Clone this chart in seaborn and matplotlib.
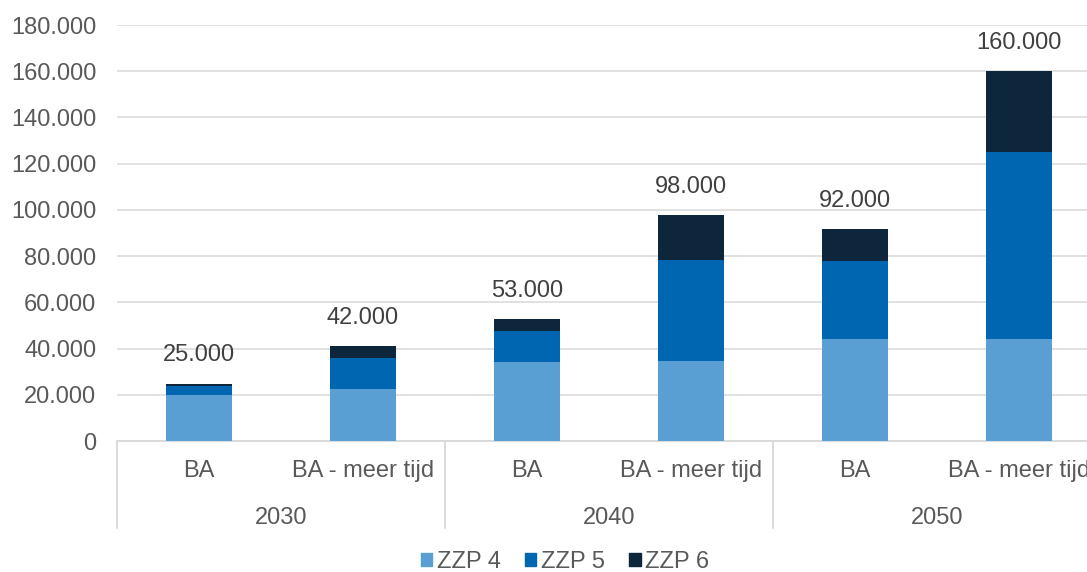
import pandas as pd
import matplotlib.pyplot as plt
import matplotlib.transforms as mtransforms
from matplotlib.patches import Patch
import seaborn as sns

# data
years = ["2030", "2030", "2040", "2040", "2050", "2050"]
scenarios = ["BA", "BA - meer tijd", "BA", "BA - meer tijd", "BA", "BA - meer tijd"]
zzp4 = [20000, 22600, 34100, 34700, 44300, 44300]
zzp5 = [3600, 13100, 13300, 43800, 33800, 80900]
zzp6 = [1200, 5500, 5500, 19400, 13700, 35000]
totals = [25000, 42000, 53000, 98000, 92000, 160000]
series = ["ZZP 4", "ZZP 5", "ZZP 6"]
colors = ["#5A9FD4", "#0066B1", "#0E263B"]

df = pd.DataFrame({"year": years, "scenario": scenarios,
                   "zzp4": zzp4, "zzp5": zzp5, "zzp6": zzp6})
df["key"] = df["year"] + " " + df["scenario"]
df["top4"] = df["zzp4"]
df["top5"] = df["zzp4"] + df["zzp5"]
df["top6"] = df["top5"] + df["zzp6"]
order = list(df["key"])

sns.set_style("white")
plt.rcParams["font.family"] = ["Liberation Sans", "DejaVu Sans"]
txt = "#595959"

fig = plt.figure(figsize=(10.87, 5.72), dpi=100)
ax = fig.add_axes([117 / 1087, 131 / 572, 984 / 1087, 416 / 572])

# stacked bars: draw cumulative totals back to front
for col, c in zip(["top6", "top5", "top4"], colors[::-1]):
    sns.barplot(data=df, x="key", y=col, order=order, color=c, saturation=1,
                width=0.4, errorbar=None, linewidth=0, ax=ax, zorder=3)

ax.set_ylim(0, 180000)
ax.set_xlim(-0.5, 5.5)
ax.set_yticks(range(0, 180001, 20000))
ax.set_yticklabels([f"{v:,}".replace(",", ".") for v in range(0, 180001, 20000)])
ax.set_xticks(range(len(order)))
ax.set_xticklabels(scenarios)
ax.set_xlabel("")
ax.set_ylabel("")
ax.tick_params(axis="both", length=0, labelsize=17, colors=txt)
ax.tick_params(axis="y", pad=15)
ax.tick_params(axis="x", pad=14)
ax.yaxis.grid(True, color="#D9D9D9", lw=1.1, zorder=0)
ax.set_axisbelow(True)
for s in ["left", "right", "top"]:
    ax.spines[s].set_visible(False)
ax.spines["bottom"].set_color("#D9D9D9")
ax.spines["bottom"].set_linewidth(1.3)

# total labels above the bars
for i, t in enumerate(totals):
    ax.annotate(f"{t:,}".replace(",", "."), (i, df["top6"][i]), xytext=(0, 16),
                textcoords="offset points", ha="center", va="baseline",
                fontsize=17, color="#404040")

# second level of the category axis
trans = mtransforms.blended_transform_factory(ax.transData, ax.transAxes)
for x in [-0.5, 1.5, 3.5, 5.5]:
    ax.plot([x, x], [0, -0.209], transform=trans, color="#D9D9D9", lw=1.3,
            clip_on=False)
for i, y in enumerate(["2030", "2040", "2050"]):
    ax.text(2 * i + 0.5, -0.185, y, transform=trans, ha="center", va="center",
            fontsize=17, color=txt)

handles = [Patch(color=c, label=s) for c, s in zip(colors, series)]
fig.legend(handles=handles, loc="center", bbox_to_anchor=(565 / 1087, 1 - 562 / 572),
           ncol=3, frameon=False, fontsize=17, handlelength=0.5, handleheight=0.5,
           handletextpad=0.2, columnspacing=1.0, labelcolor=txt)

fig.savefig("out.png", dpi=100)
